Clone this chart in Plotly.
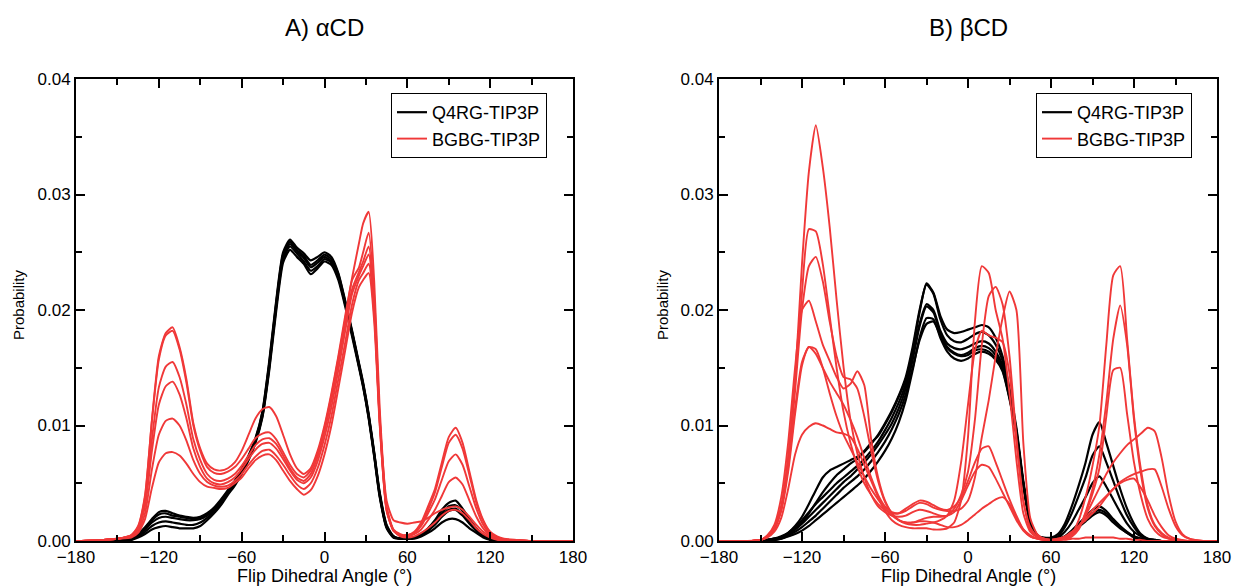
import plotly.graph_objects as go

# ---------------- data: panel A (alpha-CD) ----------------
ANGLE_A = [-180, -160, -150, -140, -135, -130, -125, -120, -115, -110,
           -105, -100, -95, -90, -85, -80, -75, -70, -65, -60,
           -55, -50, -45, -40, -35, -30, -25, -20, -15, -10,
           -5, 0, 5, 10, 15, 20, 25, 28, 32, 36,
           40, 45, 50, 55, 60, 65, 70, 75, 80, 85,
           90, 95, 100, 105, 110, 115, 120, 125, 130, 140,
           150, 180]

a_q4rg_1 = [0, 0, 0, 0.0002, 0.0006, 0.0012, 0.0019, 0.0025, 0.0026, 0.0024,
            0.0022, 0.0021, 0.0020, 0.0021, 0.0024, 0.0029, 0.0036, 0.0044, 0.0052, 0.0062,
            0.0074, 0.0089, 0.0112, 0.0156, 0.0208, 0.0250, 0.0261, 0.0254, 0.0249, 0.0243,
            0.0246, 0.0250, 0.0246, 0.0232, 0.0208, 0.0182, 0.0154, 0.0137, 0.0110, 0.0077,
            0.0042, 0.0014, 0.0004, 0.0002, 0.0002, 0.0003, 0.0006, 0.0011, 0.0018, 0.0027,
            0.0033, 0.0035, 0.0028, 0.0019, 0.0011, 0.0005, 0.0002, 0.0001, 0, 0,
            0, 0]
a_q4rg_2 = [0, 0, 0, 0.0002, 0.0006, 0.0011, 0.0018, 0.0023, 0.0024, 0.0022,
            0.0021, 0.0020, 0.0019, 0.0020, 0.0023, 0.0028, 0.0035, 0.0043, 0.0051, 0.0061,
            0.0073, 0.0088, 0.0111, 0.0154, 0.0206, 0.0248, 0.0259, 0.0252, 0.0247, 0.0239,
            0.0243, 0.0248, 0.0244, 0.0231, 0.0207, 0.0181, 0.0153, 0.0136, 0.0109, 0.0076,
            0.0041, 0.0013, 0.0004, 0.0002, 0.0002, 0.0003, 0.0005, 0.0010, 0.0016, 0.0024,
            0.0030, 0.0031, 0.0026, 0.0017, 0.0010, 0.0005, 0.0002, 0.0001, 0, 0,
            0, 0]
a_q4rg_3 = [0, 0, 0, 0.0001, 0.0004, 0.0008, 0.0013, 0.0016, 0.0017, 0.0016,
            0.0015, 0.0014, 0.0014, 0.0016, 0.0020, 0.0026, 0.0033, 0.0041, 0.0049, 0.0059,
            0.0071, 0.0086, 0.0108, 0.0150, 0.0202, 0.0244, 0.0255, 0.0249, 0.0242, 0.0234,
            0.0238, 0.0244, 0.0241, 0.0228, 0.0205, 0.0179, 0.0151, 0.0134, 0.0107, 0.0074,
            0.0039, 0.0012, 0.0003, 0.0002, 0.0002, 0.0003, 0.0005, 0.0009, 0.0014, 0.0021,
            0.0026, 0.0027, 0.0022, 0.0015, 0.0009, 0.0004, 0.0002, 0.0001, 0, 0,
            0, 0]
a_q4rg_4 = [0, 0, 0, 0.0001, 0.0003, 0.0006, 0.0010, 0.0012, 0.0013, 0.0012,
            0.0011, 0.0011, 0.0011, 0.0013, 0.0018, 0.0024, 0.0031, 0.0040, 0.0048, 0.0058,
            0.0070, 0.0085, 0.0107, 0.0148, 0.0199, 0.0241, 0.0252, 0.0246, 0.0240, 0.0231,
            0.0236, 0.0242, 0.0239, 0.0226, 0.0203, 0.0177, 0.0150, 0.0133, 0.0106, 0.0073,
            0.0038, 0.0011, 0.0003, 0.0002, 0.0002, 0.0002, 0.0004, 0.0007, 0.0011, 0.0016,
            0.0019, 0.0019, 0.0016, 0.0011, 0.0007, 0.0003, 0.0001, 0, 0, 0,
            0, 0]
a_q4rg_5 = [0, 0, 0, 0.0002, 0.0005, 0.0010, 0.0016, 0.0020, 0.0021, 0.0020,
            0.0019, 0.0018, 0.0018, 0.0019, 0.0022, 0.0027, 0.0034, 0.0042, 0.0050, 0.0060,
            0.0072, 0.0087, 0.0109, 0.0152, 0.0204, 0.0246, 0.0257, 0.0251, 0.0245, 0.0237,
            0.0241, 0.0246, 0.0242, 0.0229, 0.0206, 0.0180, 0.0152, 0.0135, 0.0108, 0.0075,
            0.0040, 0.0012, 0.0004, 0.0002, 0.0002, 0.0003, 0.0005, 0.0009, 0.0015, 0.0022,
            0.0027, 0.0028, 0.0023, 0.0016, 0.0009, 0.0004, 0.0002, 0.0001, 0, 0,
            0, 0]

a_bgbg_1 = [0, 0.0001, 0.0002, 0.0005, 0.0012, 0.0038, 0.0105, 0.0160, 0.0180, 0.0185,
            0.0168, 0.0140, 0.0102, 0.0080, 0.0067, 0.0062, 0.0061, 0.0063, 0.0068, 0.0078,
            0.0092, 0.0106, 0.0114, 0.0116, 0.0108, 0.0092, 0.0075, 0.0063, 0.0058, 0.0063,
            0.0078, 0.0100, 0.0128, 0.0160, 0.0195, 0.0228, 0.0258, 0.0275, 0.0285, 0.0225,
            0.0115, 0.0030, 0.0010, 0.0006, 0.0005, 0.0008, 0.0016, 0.0030, 0.0045, 0.0068,
            0.0090, 0.0098, 0.0085, 0.0060, 0.0035, 0.0018, 0.0008, 0.0004, 0.0002, 0.0001,
            0, 0]
a_bgbg_2 = [0, 0.0001, 0.0002, 0.0005, 0.0013, 0.0040, 0.0104, 0.0157, 0.0178, 0.0182,
            0.0166, 0.0137, 0.0100, 0.0078, 0.0064, 0.0059, 0.0058, 0.0060, 0.0064, 0.0071,
            0.0080, 0.0089, 0.0093, 0.0094, 0.0088, 0.0077, 0.0066, 0.0058, 0.0055, 0.0061,
            0.0076, 0.0098, 0.0126, 0.0158, 0.0192, 0.0226, 0.0237, 0.0250, 0.0267, 0.0212,
            0.0108, 0.0028, 0.0009, 0.0005, 0.0005, 0.0007, 0.0014, 0.0027, 0.0042, 0.0064,
            0.0085, 0.0092, 0.0080, 0.0057, 0.0033, 0.0017, 0.0007, 0.0003, 0.0001, 0.0001,
            0, 0]
a_bgbg_3 = [0, 0.0001, 0.0002, 0.0005, 0.0011, 0.0034, 0.0088, 0.0133, 0.0151, 0.0155,
            0.0142, 0.0118, 0.0088, 0.0070, 0.0058, 0.0053, 0.0052, 0.0054, 0.0058, 0.0065,
            0.0074, 0.0083, 0.0088, 0.0089, 0.0084, 0.0074, 0.0063, 0.0055, 0.0052, 0.0058,
            0.0073, 0.0095, 0.0122, 0.0154, 0.0188, 0.0218, 0.0233, 0.0242, 0.0255, 0.0205,
            0.0105, 0.0027, 0.0009, 0.0005, 0.0005, 0.0007, 0.0013, 0.0024, 0.0036, 0.0053,
            0.0069, 0.0075, 0.0066, 0.0047, 0.0028, 0.0014, 0.0006, 0.0003, 0.0001, 0.0001,
            0, 0]
a_bgbg_4 = [0, 0.0001, 0.0002, 0.0004, 0.0010, 0.0030, 0.0078, 0.0118, 0.0134, 0.0138,
            0.0127, 0.0106, 0.0080, 0.0064, 0.0054, 0.0050, 0.0049, 0.0051, 0.0055, 0.0062,
            0.0071, 0.0079, 0.0084, 0.0085, 0.0080, 0.0071, 0.0061, 0.0053, 0.0050, 0.0055,
            0.0069, 0.0090, 0.0116, 0.0148, 0.0182, 0.0214, 0.0230, 0.0238, 0.0248, 0.0200,
            0.0102, 0.0026, 0.0009, 0.0005, 0.0004, 0.0006, 0.0010, 0.0018, 0.0027, 0.0039,
            0.0051, 0.0055, 0.0049, 0.0035, 0.0021, 0.0011, 0.0005, 0.0002, 0.0001, 0,
            0, 0]
a_bgbg_5 = [0, 0.0001, 0.0002, 0.0004, 0.0008, 0.0024, 0.0062, 0.0092, 0.0104, 0.0106,
            0.0100, 0.0087, 0.0070, 0.0058, 0.0051, 0.0048, 0.0047, 0.0048, 0.0052, 0.0058,
            0.0066, 0.0073, 0.0078, 0.0079, 0.0074, 0.0066, 0.0057, 0.0049, 0.0045, 0.0050,
            0.0063, 0.0083, 0.0108, 0.0140, 0.0172, 0.0205, 0.0226, 0.0232, 0.0240, 0.0196,
            0.0105, 0.0035, 0.0018, 0.0016, 0.0015, 0.0016, 0.0017, 0.0020, 0.0024, 0.0027,
            0.0029, 0.0030, 0.0027, 0.0021, 0.0014, 0.0008, 0.0004, 0.0002, 0.0001, 0,
            0, 0]
a_bgbg_6 = [0, 0.0001, 0.0002, 0.0003, 0.0007, 0.0019, 0.0046, 0.0068, 0.0076, 0.0077,
            0.0074, 0.0067, 0.0058, 0.0051, 0.0047, 0.0046, 0.0045, 0.0046, 0.0050, 0.0055,
            0.0063, 0.0070, 0.0074, 0.0075, 0.0070, 0.0061, 0.0052, 0.0045, 0.0040, 0.0044,
            0.0056, 0.0075, 0.0100, 0.0132, 0.0165, 0.0198, 0.0220, 0.0226, 0.0232, 0.0190,
            0.0100, 0.0027, 0.0009, 0.0004, 0.0003, 0.0004, 0.0007, 0.0011, 0.0016, 0.0022,
            0.0026, 0.0027, 0.0024, 0.0018, 0.0011, 0.0006, 0.0003, 0.0001, 0, 0,
            0, 0]

# ---------------- data: panel B (beta-CD) ----------------
ANGLE_B = [-180, -160, -150, -145, -140, -135, -130, -125, -120, -115,
           -110, -105, -100, -95, -90, -85, -80, -75, -70, -65,
           -60, -55, -50, -45, -40, -35, -30, -25, -20, -15,
           -10, -5, 0, 5, 10, 15, 20, 25, 30, 35,
           40, 45, 50, 55, 60, 65, 70, 75, 80, 85,
           90, 95, 100, 105, 110, 115, 120, 125, 130, 135,
           140, 145, 150, 155, 160, 170, 180]

b_q4rg_1 = [0, 0, 0, 0.0001, 0.0002, 0.0003, 0.0007, 0.0013, 0.0021, 0.0032,
            0.0044, 0.0055, 0.0061, 0.0064, 0.0067, 0.0070, 0.0073, 0.0078, 0.0085, 0.0091,
            0.0101, 0.0112, 0.0125, 0.0140, 0.0165, 0.0198, 0.0223, 0.0215, 0.0195, 0.0183,
            0.0180, 0.0181, 0.0183, 0.0185, 0.0187, 0.0185, 0.0176, 0.0160, 0.0132, 0.0098,
            0.0052, 0.0017, 0.0005, 0.0002, 0.0002, 0.0002, 0.0004, 0.0009, 0.0015, 0.0021,
            0.0027, 0.0030, 0.0026, 0.0019, 0.0013, 0.0008, 0.0004, 0.0002, 0.0001, 0,
            0, 0, 0, 0, 0, 0, 0]
b_q4rg_2 = [0, 0, 0, 0.0001, 0.0001, 0.0002, 0.0005, 0.0010, 0.0016, 0.0024,
            0.0033, 0.0042, 0.0050, 0.0057, 0.0062, 0.0067, 0.0071, 0.0077, 0.0084, 0.0092,
            0.0102, 0.0113, 0.0126, 0.0142, 0.0168, 0.0200, 0.0222, 0.0214, 0.0192, 0.0178,
            0.0173, 0.0172, 0.0175, 0.0179, 0.0181, 0.0178, 0.0170, 0.0156, 0.0128, 0.0096,
            0.0050, 0.0016, 0.0005, 0.0003, 0.0003, 0.0006, 0.0015, 0.0030, 0.0048, 0.0068,
            0.0092, 0.0103, 0.0085, 0.0065, 0.0045, 0.0028, 0.0015, 0.0006, 0.0002, 0.0001,
            0, 0, 0, 0, 0, 0, 0]
b_q4rg_3 = [0, 0, 0, 0.0001, 0.0002, 0.0004, 0.0007, 0.0012, 0.0018, 0.0025,
            0.0032, 0.0038, 0.0044, 0.0050, 0.0055, 0.0060, 0.0065, 0.0071, 0.0078, 0.0086,
            0.0096, 0.0107, 0.0120, 0.0136, 0.0160, 0.0188, 0.0205, 0.0200, 0.0182, 0.0171,
            0.0167, 0.0166, 0.0168, 0.0171, 0.0173, 0.0171, 0.0164, 0.0152, 0.0126, 0.0094,
            0.0050, 0.0016, 0.0005, 0.0002, 0.0002, 0.0004, 0.0012, 0.0024, 0.0039, 0.0055,
            0.0074, 0.0082, 0.0068, 0.0052, 0.0036, 0.0022, 0.0012, 0.0005, 0.0002, 0.0001,
            0, 0, 0, 0, 0, 0, 0]
b_q4rg_4 = [0, 0, 0, 0.0001, 0.0002, 0.0003, 0.0006, 0.0010, 0.0015, 0.0021,
            0.0027, 0.0033, 0.0039, 0.0045, 0.0051, 0.0056, 0.0062, 0.0068, 0.0075, 0.0083,
            0.0092, 0.0102, 0.0115, 0.0132, 0.0157, 0.0186, 0.0203, 0.0198, 0.0180, 0.0168,
            0.0163, 0.0161, 0.0163, 0.0167, 0.0169, 0.0167, 0.0161, 0.0150, 0.0125, 0.0093,
            0.0049, 0.0016, 0.0005, 0.0002, 0.0002, 0.0003, 0.0008, 0.0016, 0.0027, 0.0038,
            0.0050, 0.0056, 0.0047, 0.0036, 0.0025, 0.0015, 0.0008, 0.0004, 0.0001, 0,
            0, 0, 0, 0, 0, 0, 0]
b_q4rg_5 = [0, 0, 0, 0, 0.0001, 0.0002, 0.0004, 0.0006, 0.0009, 0.0013,
            0.0018, 0.0023, 0.0028, 0.0033, 0.0038, 0.0043, 0.0048, 0.0054, 0.0061, 0.0069,
            0.0078, 0.0089, 0.0103, 0.0122, 0.0148, 0.0176, 0.0193, 0.0192, 0.0176, 0.0164,
            0.0158, 0.0156, 0.0158, 0.0162, 0.0164, 0.0162, 0.0157, 0.0147, 0.0123, 0.0092,
            0.0049, 0.0016, 0.0005, 0.0002, 0.0002, 0.0002, 0.0004, 0.0008, 0.0013, 0.0019,
            0.0024, 0.0027, 0.0024, 0.0018, 0.0012, 0.0007, 0.0004, 0.0002, 0.0001, 0,
            0, 0, 0, 0, 0, 0, 0]
b_q4rg_6 = [0, 0, 0, 0, 0.0001, 0.0003, 0.0005, 0.0008, 0.0012, 0.0017,
            0.0022, 0.0028, 0.0034, 0.0040, 0.0046, 0.0051, 0.0056, 0.0062, 0.0069, 0.0077,
            0.0086, 0.0097, 0.0110, 0.0127, 0.0150, 0.0174, 0.0188, 0.0190, 0.0178, 0.0167,
            0.0162, 0.0160, 0.0161, 0.0165, 0.0166, 0.0164, 0.0158, 0.0148, 0.0124, 0.0093,
            0.0049, 0.0016, 0.0005, 0.0002, 0.0002, 0.0002, 0.0003, 0.0007, 0.0012, 0.0017,
            0.0022, 0.0025, 0.0022, 0.0016, 0.0011, 0.0007, 0.0003, 0.0001, 0, 0,
            0, 0, 0, 0, 0, 0, 0]

b_bgbg_1 = [0, 0, 0.0001, 0.0004, 0.0011, 0.0030, 0.0072, 0.0140, 0.0240, 0.0320,
            0.0360, 0.0324, 0.0272, 0.0209, 0.0151, 0.0105, 0.0076, 0.0055, 0.0040, 0.0030,
            0.0025, 0.0022, 0.0021, 0.0022, 0.0025, 0.0027, 0.0026, 0.0024, 0.0022, 0.0022,
            0.0025, 0.0035, 0.0048, 0.0060, 0.0066, 0.0064, 0.0054, 0.0042, 0.0030, 0.0018,
            0.0009, 0.0004, 0.0002, 0.0001, 0.0001, 0.0002, 0.0004, 0.0008, 0.0013, 0.0018,
            0.0024, 0.0030, 0.0038, 0.0045, 0.0050, 0.0053, 0.0054, 0.0046, 0.0035, 0.0022,
            0.0012, 0.0005, 0.0002, 0.0001, 0, 0, 0]
b_bgbg_2 = [0, 0, 0.0001, 0.0004, 0.0011, 0.0030, 0.0072, 0.0138, 0.0215, 0.0270,
            0.0268, 0.0240, 0.0195, 0.0150, 0.0112, 0.0085, 0.0065, 0.0050, 0.0040, 0.0032,
            0.0027, 0.0024, 0.0024, 0.0028, 0.0032, 0.0035, 0.0034, 0.0031, 0.0028, 0.0027,
            0.0030, 0.0038, 0.0052, 0.0068, 0.0080, 0.0082, 0.0068, 0.0052, 0.0036, 0.0022,
            0.0010, 0.0005, 0.0002, 0.0001, 0.0001, 0.0002, 0.0003, 0.0007, 0.0013, 0.0020,
            0.0027, 0.0033, 0.0039, 0.0045, 0.0051, 0.0055, 0.0058, 0.0060, 0.0062, 0.0062,
            0.0047, 0.0028, 0.0013, 0.0005, 0.0002, 0, 0]
b_bgbg_3 = [0, 0, 0.0001, 0.0004, 0.0010, 0.0028, 0.0068, 0.0130, 0.0200, 0.0238,
            0.0246, 0.0225, 0.0190, 0.0160, 0.0142, 0.0140, 0.0132, 0.0108, 0.0078, 0.0052,
            0.0034, 0.0024, 0.0018, 0.0016, 0.0016, 0.0017, 0.0017, 0.0016, 0.0014, 0.0012,
            0.0012, 0.0014, 0.0018, 0.0023, 0.0028, 0.0032, 0.0036, 0.0038, 0.0032, 0.0020,
            0.0010, 0.0004, 0.0002, 0.0001, 0.0001, 0.0001, 0.0002, 0.0005, 0.0012, 0.0022,
            0.0034, 0.0046, 0.0058, 0.0068, 0.0076, 0.0083, 0.0088, 0.0093, 0.0098, 0.0095,
            0.0072, 0.0040, 0.0017, 0.0006, 0.0002, 0, 0]
b_bgbg_4 = [0, 0, 0.0001, 0.0005, 0.0014, 0.0038, 0.0085, 0.0150, 0.0200, 0.0208,
            0.0190, 0.0170, 0.0156, 0.0142, 0.0132, 0.0136, 0.0147, 0.0135, 0.0088, 0.0055,
            0.0035, 0.0024, 0.0018, 0.0015, 0.0014, 0.0014, 0.0015, 0.0016, 0.0018, 0.0022,
            0.0035, 0.0068, 0.0118, 0.0165, 0.0182, 0.0178, 0.0176, 0.0172, 0.0145, 0.0085,
            0.0035, 0.0012, 0.0004, 0.0002, 0.0001, 0.0001, 0.0001, 0.0002, 0.0002, 0.0003,
            0.0003, 0.0003, 0.0003, 0.0003, 0.0002, 0.0002, 0.0001, 0.0001, 0, 0,
            0, 0, 0, 0, 0, 0, 0]
b_bgbg_5 = [0, 0, 0.0001, 0.0004, 0.0010, 0.0026, 0.0060, 0.0110, 0.0152, 0.0168,
            0.0166, 0.0150, 0.0128, 0.0108, 0.0092, 0.0080, 0.0068, 0.0056, 0.0045, 0.0036,
            0.0028, 0.0022, 0.0018, 0.0016, 0.0016, 0.0018, 0.0020, 0.0021, 0.0021, 0.0022,
            0.0028, 0.0040, 0.0060, 0.0105, 0.0170, 0.0212, 0.0220, 0.0205, 0.0160, 0.0090,
            0.0035, 0.0010, 0.0004, 0.0002, 0.0001, 0.0001, 0.0002, 0.0004, 0.0011, 0.0024,
            0.0041, 0.0063, 0.0108, 0.0148, 0.0150, 0.0110, 0.0068, 0.0039, 0.0019, 0.0009,
            0.0004, 0.0002, 0.0001, 0, 0, 0, 0]
b_bgbg_6 = [0, 0, 0.0001, 0.0004, 0.0011, 0.0028, 0.0064, 0.0115, 0.0155, 0.0168,
            0.0162, 0.0150, 0.0138, 0.0128, 0.0118, 0.0105, 0.0090, 0.0072, 0.0055, 0.0040,
            0.0030, 0.0025, 0.0024, 0.0026, 0.0030, 0.0033, 0.0032, 0.0029, 0.0027, 0.0026,
            0.0026, 0.0028, 0.0035, 0.0055, 0.0090, 0.0122, 0.0160, 0.0193, 0.0216, 0.0200,
            0.0085, 0.0020, 0.0006, 0.0002, 0.0001, 0.0001, 0.0002, 0.0004, 0.0010, 0.0025,
            0.0045, 0.0075, 0.0120, 0.0175, 0.0204, 0.0170, 0.0105, 0.0058, 0.0028, 0.0013,
            0.0006, 0.0002, 0.0001, 0, 0, 0, 0]
b_bgbg_7 = [0, 0, 0.0001, 0.0003, 0.0008, 0.0020, 0.0045, 0.0075, 0.0092, 0.0099,
            0.0102, 0.0100, 0.0097, 0.0094, 0.0093, 0.0090, 0.0080, 0.0066, 0.0052, 0.0038,
            0.0026, 0.0018, 0.0014, 0.0012, 0.0011, 0.0011, 0.0011, 0.0010, 0.0010, 0.0011,
            0.0016, 0.0035, 0.0090, 0.0190, 0.0238, 0.0232, 0.0200, 0.0175, 0.0128, 0.0070,
            0.0024, 0.0008, 0.0003, 0.0001, 0.0001, 0.0001, 0.0002, 0.0006, 0.0018, 0.0038,
            0.0065, 0.0100, 0.0170, 0.0230, 0.0238, 0.0175, 0.0108, 0.0062, 0.0030, 0.0014,
            0.0007, 0.0003, 0.0001, 0, 0, 0, 0]

SERIES_NAMES = ["Q4RG-TIP3P", "BGBG-TIP3P"]
PANEL_TITLES = ["A) \u03b1CD", "B) \u03b2CD"]
X_TITLE = "Flip Dihedral Angle (\u00b0)"
Y_TITLE = "Probability"
X_TICKS = [-180, -120, -60, 0, 60, 120, 180]
X_MINOR = [-150, -90, -30, 30, 90, 150]
Y_TICKS = [0, 0.01, 0.02, 0.03, 0.04]
Y_TICKTEXT = ["0.00", "0.01", "0.02", "0.03", "0.04"]
Y_MINOR = [0.005, 0.015, 0.025, 0.035]

BLACK = "#000000"
RED = "#f03838"
FONT = "Liberation Sans, Arial, sans-serif"

W, H = 1234, 586
fig = go.Figure()


def add_group(xs, curves, name, color, width, xa, ya, leg):
    for i, ys in enumerate(curves):
        fig.add_trace(go.Scatter(
            x=xs, y=ys, mode="lines", name=name,
            line=dict(color=color, width=width, shape="spline", smoothing=0.6),
            showlegend=(i == 0), legendgroup=name + xa, legend=leg,
            xaxis=xa, yaxis=ya, hoverinfo="skip"))


add_group(ANGLE_A, [a_q4rg_1, a_q4rg_2, a_q4rg_3, a_q4rg_4, a_q4rg_5],
          SERIES_NAMES[0], BLACK, 2.2, "x", "y", "legend")
add_group(ANGLE_A, [a_bgbg_1, a_bgbg_2, a_bgbg_3, a_bgbg_4, a_bgbg_5, a_bgbg_6],
          SERIES_NAMES[1], RED, 1.9, "x", "y", "legend")
add_group(ANGLE_B, [b_q4rg_1, b_q4rg_2, b_q4rg_3, b_q4rg_4, b_q4rg_5, b_q4rg_6],
          SERIES_NAMES[0], BLACK, 2.2, "x2", "y2", "legend2")
add_group(ANGLE_B, [b_bgbg_1, b_bgbg_2, b_bgbg_3, b_bgbg_4, b_bgbg_5, b_bgbg_6, b_bgbg_7],
          SERIES_NAMES[1], RED, 1.9, "x2", "y2", "legend2")

# panel geometry (pixels)
AX_L = (76, 573)
AX_R = (719, 1217)
AX_TOP, AX_BOT = 79, 541

common = dict(showline=True, linecolor="black", linewidth=2, mirror="allticks",
              ticks="inside", ticklen=9, tickwidth=1.5, tickcolor="black",
              showgrid=False, zeroline=False, automargin=False,
              tickfont=dict(family=FONT, size=17, color="black"))

xcommon = dict(common, range=[-180, 180], tickmode="array", tickvals=X_TICKS,
               minor=dict(tickvals=X_MINOR, ticks="inside", ticklen=6,
                          tickwidth=1.5, tickcolor="black", showgrid=False))
ycommon = dict(common, range=[0, 0.04], tickmode="array", tickvals=Y_TICKS,
               ticktext=Y_TICKTEXT,
               minor=dict(tickvals=Y_MINOR, ticks="inside", ticklen=6,
                          tickwidth=1.5, tickcolor="black", showgrid=False))

ydom = [(H - AX_BOT) / H, (H - AX_TOP) / H]

legend_style = dict(yanchor="top", xanchor="right", y=(H - 93) / H,
                    bordercolor="black", borderwidth=1, bgcolor="white",
                    font=dict(family=FONT, size=18, color="black"),
                    tracegroupgap=0, itemwidth=30)

fig.update_layout(
    width=W, height=H,
    margin=dict(l=0, r=0, t=0, b=0),
    paper_bgcolor="white", plot_bgcolor="white",
    font=dict(family=FONT, color="black"),
    xaxis=dict(xcommon, domain=[AX_L[0] / W, AX_L[1] / W], anchor="y"),
    yaxis=dict(ycommon, domain=ydom, anchor="x"),
    xaxis2=dict(xcommon, domain=[AX_R[0] / W, AX_R[1] / W], anchor="y2"),
    yaxis2=dict(ycommon, domain=ydom, anchor="x2"),
    legend=dict(legend_style, x=547 / W),
    legend2=dict(legend_style, x=1192 / W),
    showlegend=True,
)

annots = []
for (l, r), title in zip([AX_L, AX_R], PANEL_TITLES):
    cx = (l + r) / 2 / W
    annots.append(dict(text=title, x=cx, y=(H - 27) / H, xref="paper", yref="paper",
                       showarrow=False, font=dict(family=FONT, size=24, color="black"),
                       xanchor="center", yanchor="middle"))
    annots.append(dict(text=X_TITLE, x=cx, y=(H - 576) / H, xref="paper", yref="paper",
                       showarrow=False, font=dict(family=FONT, size=18, color="black"),
                       xanchor="center", yanchor="middle"))
for xpx in [18, 662]:
    annots.append(dict(text=Y_TITLE, x=xpx / W, y=(H - 305) / H, xref="paper", yref="paper",
                       showarrow=False, textangle=-90,
                       font=dict(family=FONT, size=15, color="black"),
                       xanchor="center", yanchor="middle"))
fig.update_layout(annotations=annots)

fig.write_html("out.html")
